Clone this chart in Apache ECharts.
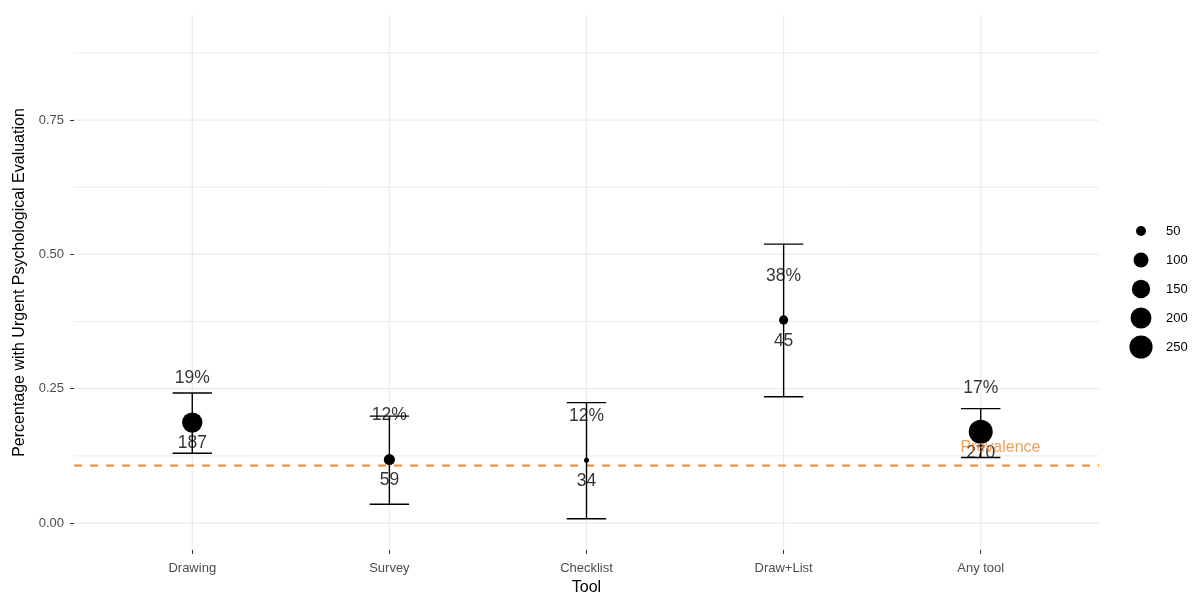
<!DOCTYPE html>
<html>
<head>
<meta charset="utf-8">
<script src="https://cdn.jsdelivr.net/npm/echarts@6/dist/echarts.min.js"></script>
<style>
  html, body { margin: 0; padding: 0; background: #fff; }
  #chart { width: 1193px; height: 592px; }
</style>
</head>
<body>
<div id="chart"></div>
<script>
// Screening tools: share of children flagged for urgent psychological evaluation
var tools = ['Drawing', 'Survey', 'Checklist', 'Draw+List', 'Any tool'];
var proportion = [0.187, 0.118, 0.117, 0.378, 0.170];
var ciLower = [0.130, 0.035, 0.008, 0.235, 0.122];
var ciUpper = [0.242, 0.199, 0.224, 0.519, 0.213];
var sampleSize = [187, 59, 34, 45, 270];
var prevalence = 0.107;
var yTicks = [0, 0.25, 0.5, 0.75];
var yMinorGrid = [0.125, 0.375, 0.625, 0.875];
var sizeBreaks = [50, 100, 150, 200, 250];

var FONT = "'Liberation Sans', Arial, Helvetica, sans-serif";
var X_MIN = -0.6, X_MAX = tools.length - 0.4;
var Y_MIN = -0.0502, Y_MAX = 0.9455;
var ORANGE = '#F5862A';

// area scale for point size (diameter in px)
var nMin = Math.min.apply(null, sampleSize);
var nMax = Math.max.apply(null, sampleSize);
function pointDiameter(n) {
  var t = Math.max(0, (n - nMin) / (nMax - nMin));
  return 5 + 19 * Math.sqrt(t);
}

var idx = tools.map(function (_, i) { return i; });
var pointData = idx.map(function (i) { return [i, proportion[i], sampleSize[i]]; });
var barData = idx.map(function (i) { return [i, ciLower[i], ciUpper[i]]; });

function gridLineSeries(values, horizontal, width) {
  return {
    type: 'custom', silent: true, z: 0,
    data: values.map(function (v) { return [v]; }),
    renderItem: function (params, api) {
      var v = api.value(0);
      var a = horizontal ? api.coord([X_MIN, v]) : api.coord([v, Y_MIN]);
      var b = horizontal ? api.coord([X_MAX, v]) : api.coord([v, Y_MAX]);
      return { type: 'line', shape: { x1: a[0], y1: a[1], x2: b[0], y2: b[1] },
               style: { stroke: '#EBEBEB', lineWidth: width } };
    }
  };
}

function textLabel(offsetY, color, size, formatter) {
  return { show: true, position: 'inside', offset: [0, offsetY], color: color, fontSize: size,
           fontFamily: FONT, textBorderWidth: 0, textBorderColor: 'transparent', formatter: formatter };
}

var chart = echarts.init(document.getElementById('chart'), null, { renderer: 'canvas' });

// size legend on the right
var legendItems = sizeBreaks.map(function (n, k) {
  var cy = 231 + 29 * k;
  return [
    { type: 'circle', shape: { cx: 1141, cy: cy, r: pointDiameter(n) / 2 }, style: { fill: '#000' } },
    { type: 'text', x: 1166, y: cy, style: { text: String(n), fill: '#000', font: '13px ' + FONT, textVerticalAlign: 'middle', textAlign: 'left' } }
  ];
}).reduce(function (a, b) { return a.concat(b); }, []);

chart.setOption({
  backgroundColor: '#ffffff',
  animation: false,
  textStyle: { fontFamily: FONT },
  grid: { left: 74, right: 94, top: 15, bottom: 42, containLabel: false, outerBoundsMode: 'none' },
  xAxis: {
    type: 'value', min: X_MIN, max: X_MAX,
    name: 'Tool', nameLocation: 'middle', nameGap: 30,
    nameTextStyle: { color: '#000', fontSize: 16, fontFamily: FONT },
    axisLine: { show: false, onZero: false },
    splitLine: { show: false },
    axisTick: { show: true, customValues: idx, length: 4, lineStyle: { color: '#333', width: 1 } },
    axisLabel: { customValues: idx, color: '#4D4D4D', fontSize: 13, margin: 12, fontFamily: FONT,
                 formatter: function (v) { return tools[Math.round(v)] || ''; } }
  },
  yAxis: {
    type: 'value', min: Y_MIN, max: Y_MAX,
    name: 'Percentage with Urgent Psychological Evaluation', nameLocation: 'middle', nameGap: 42,
    nameTextStyle: { color: '#000', fontSize: 16, fontFamily: FONT },
    axisLine: { show: false, onZero: false },
    splitLine: { show: false },
    axisTick: { show: true, customValues: yTicks, length: 4, lineStyle: { color: '#333', width: 1 } },
    axisLabel: { customValues: yTicks, color: '#4D4D4D', fontSize: 13, margin: 10, fontFamily: FONT,
                 formatter: function (v) { return v.toFixed(2); } }
  },
  graphic: legendItems,
  series: [
    gridLineSeries(yMinorGrid, true, 1),
    gridLineSeries(yTicks, true, 1.2),
    gridLineSeries(idx, false, 1.2),
    {
      // prevalence reference line
      type: 'custom', silent: true, z: 1,
      data: [[prevalence]],
      renderItem: function (params, api) {
        var a = api.coord([X_MIN, api.value(0)]);
        var b = api.coord([X_MAX, api.value(0)]);
        return { type: 'line', shape: { x1: a[0], y1: a[1], x2: b[0], y2: b[1] },
                 style: { stroke: ORANGE, lineWidth: 2, lineDash: [8, 8] } };
      }
    },
    {
      // confidence interval error bars
      type: 'custom', z: 2,
      data: barData,
      renderItem: function (params, api) {
        var x = api.value(0);
        var lo = api.coord([x, api.value(1)]);
        var hi = api.coord([x, api.value(2)]);
        var capL = api.coord([x - 0.1, 0])[0];
        var capR = api.coord([x + 0.1, 0])[0];
        var st = { stroke: '#000', lineWidth: 1.4 };
        return { type: 'group', children: [
          { type: 'line', shape: { x1: lo[0], y1: lo[1], x2: hi[0], y2: hi[1] }, style: st },
          { type: 'line', shape: { x1: capL, y1: hi[1], x2: capR, y2: hi[1] }, style: st },
          { type: 'line', shape: { x1: capL, y1: lo[1], x2: capR, y2: lo[1] }, style: st }
        ] };
      }
    },
    {
      // point estimates sized by sample size
      type: 'scatter', z: 3,
      data: pointData,
      symbol: 'circle',
      symbolSize: function (val) { return pointDiameter(val[2]); },
      itemStyle: { color: '#000', opacity: 1 }
    },
    {
      // percentage labels
      type: 'scatter', z: 4, silent: true,
      data: pointData, symbolSize: 0, itemStyle: { color: '#000' },
      label: textLabel(-44, '#000', 17.5, function (p) { return Math.round(p.value[1] * 100) + '%'; })
    },
    {
      // sample size labels
      type: 'scatter', z: 4, silent: true,
      data: pointData, symbolSize: 0, itemStyle: { color: '#000' },
      label: textLabel(21, '#000', 17.5, function (p) { return String(p.value[2]); })
    },
    {
      // prevalence annotation
      type: 'scatter', z: 5, silent: true,
      data: [[tools.length - 1 + 0.1, prevalence]], symbolSize: 0, itemStyle: { color: ORANGE },
      label: textLabel(-18, ORANGE, 16, 'Prevalence')
    }
  ]
});
</script>
</body>
</html>
